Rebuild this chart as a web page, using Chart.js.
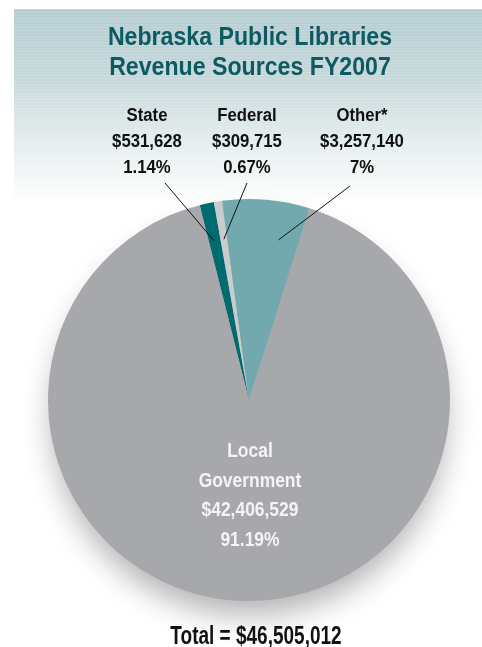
<!DOCTYPE html>
<html>
<head>
<meta charset="utf-8">
<script src="https://cdn.jsdelivr.net/npm/chart.js@4/dist/chart.umd.min.js"></script>
<style>
  html, body { margin: 0; padding: 0; background: #fff; }
  #wrap { position: relative; width: 482px; height: 647px; overflow: hidden; }
  #bg { position: absolute; left: 14px; top: 9px; width: 468px; height: 195px;
        background:
          repeating-linear-gradient(to bottom, rgba(255,255,255,0.12) 0px, rgba(255,255,255,0.12) 1px, rgba(255,255,255,0) 1px, rgba(255,255,255,0) 3px),
          linear-gradient(to bottom, #b5cdd2 0%, #c6d8db 35%, #e2ebec 65%, #ffffff 100%); }
  canvas { position: absolute; left: 0; top: 0; }
  .t { position: absolute; font-family: "Liberation Sans", Arial, sans-serif;
       font-weight: bold; text-align: center; white-space: nowrap; transform-origin: 50% 0; }
  #title { left: 0; width: 500px; top: 21px; font-size: 26px; line-height: 30px; color: #0d5a62; transform: scaleX(0.89); }
  .lab { font-size: 18px; line-height: 26px; color: #111; width: 140px; top: 102px; transform: scaleX(0.93); }
  #local { left: 150px; width: 200px; top: 435px; font-size: 21px; line-height: 29.5px; color: #f4f4f4; transform: scaleX(0.83); }
  #total { left: 106px; width: 300px; top: 621px; font-size: 25px; line-height: 28px; color: #111; transform: scaleX(0.76); }
</style>
</head>
<body>
<div id="wrap">
  <div id="bg"></div>
  <canvas id="c" width="482" height="647"></canvas>
  <div class="t" id="title">Nebraska Public Libraries<br>Revenue Sources FY2007</div>
  <div class="t lab" id="lab0" style="left:77px">State<br>$531,628<br>1.14%</div>
  <div class="t lab" id="lab1" style="left:177px">Federal<br>$309,715<br>0.67%</div>
  <div class="t lab" id="lab2" style="left:292px">Other*<br>$3,257,140<br>7%</div>
  <div class="t" id="local">Local<br>Government<br>$42,406,529<br>91.19%</div>
  <div class="t" id="total">Total = $46,505,012</div>
</div>
<script>
const categories = ["State", "Federal", "Other*", "Local Government"];
const amounts = [531628, 309715, 3257140, 42406529];
const percents = ["1.14%", "0.67%", "7%", "91.19%"];
const colors = ["#006b6f", "#c9cbcd", "#72a9af", "#a7a8ac"];

// leader-line label anchors (pixel positions under the labels) and where along each slice to point
const leaderStart = [[165, 183], [247, 183], [350, 186]];
const leaderAngleFrac = [0.45, 0.5, 0.72];
const leaderRadiusFrac = 0.81;

const shadowPlugin = {
  id: 'pieShadow',
  beforeDatasetsDraw(chart) {
    const arc = chart.getDatasetMeta(0).data[0];
    if (!arc) return;
    const { x, y, outerRadius } = arc.getProps(['x', 'y', 'outerRadius'], true);
    const ctx = chart.ctx;
    ctx.save();
    ctx.shadowColor = 'rgba(0,0,0,0.3)';
    ctx.shadowBlur = 30;
    ctx.shadowOffsetY = 18;
    ctx.beginPath();
    ctx.arc(x, y, outerRadius - 4, 0, Math.PI * 2);
    ctx.fillStyle = '#a7a8ac';
    ctx.fill();
    ctx.restore();
  }
};

const leaderPlugin = {
  id: 'leaders',
  afterDatasetsDraw(chart) {
    const ctx = chart.ctx;
    const meta = chart.getDatasetMeta(0);
    ctx.save();
    ctx.strokeStyle = '#111';
    ctx.lineWidth = 1;
    for (let i = 0; i < 3; i++) {
      const a = meta.data[i].getProps(['x', 'y', 'startAngle', 'endAngle', 'outerRadius'], true);
      const ang = a.startAngle + (a.endAngle - a.startAngle) * leaderAngleFrac[i];
      const r = a.outerRadius * leaderRadiusFrac;
      const ex = a.x + Math.cos(ang) * r;
      const ey = a.y + Math.sin(ang) * r;
      ctx.beginPath();
      ctx.moveTo(leaderStart[i][0], leaderStart[i][1]);
      ctx.lineTo(ex, ey);
      ctx.stroke();
    }
    ctx.restore();
  }
};

new Chart(document.getElementById('c'), {
  type: 'pie',
  data: {
    labels: categories,
    datasets: [{
      data: amounts,
      backgroundColor: colors,
      borderWidth: 0
    }]
  },
  options: {
    responsive: false,
    animation: false,
    rotation: -14.2,
    layout: { padding: { top: 199, bottom: 46, left: 48, right: 32 } },
    plugins: {
      legend: { display: false },
      tooltip: { enabled: false },
      title: { display: false }
    }
  },
  plugins: [shadowPlugin, leaderPlugin]
});
</script>
</body>
</html>
